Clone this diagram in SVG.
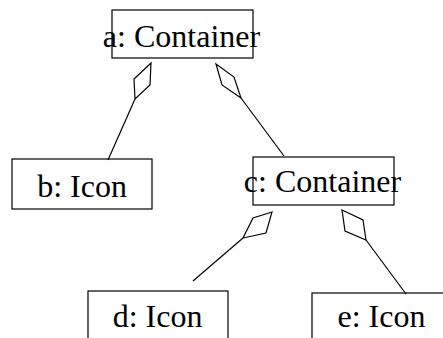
<svg xmlns="http://www.w3.org/2000/svg" width="443" height="338" viewBox="0 0 443 338">
  <style>
    .box { fill: none; stroke: #000; stroke-width: 1.2; }
    .label { font-family: 'Liberation Serif', 'Times New Roman', Times, serif; font-size: 32px; fill: #000; text-anchor: middle; }
    .link { stroke: #000; stroke-width: 1.2; fill: none; }
    .diamond { fill: #fff; stroke: #000; stroke-width: 1.2; stroke-linejoin: miter; }
  </style>
  <rect width="443" height="338" fill="#fff"/>

  <!-- composition links: line plus open diamond at the owning end -->
  <g id="connectors">
    <line class="link" x1="135" y1="99" x2="108" y2="160"/>
    <polygon class="diamond" points="151,63 134,79 135,99 150,85"/>
    <line class="link" x1="241" y1="98" x2="284" y2="156"/>
    <polygon class="diamond" points="216,64 222,85 241,98 234,77"/>
    <line class="link" x1="243" y1="238" x2="193" y2="281"/>
    <polygon class="diamond" points="272,212 253,218 243,238 266,233"/>
    <line class="link" x1="366" y1="240" x2="406" y2="294"/>
    <polygon class="diamond" points="342,210 345,231 366,240 363,220"/>
  </g>

  <g id="a">
    <rect class="box" x="112" y="10" width="141" height="48"/>
    <text class="label" font-family="Liberation Serif, serif" x="181.5" y="46.5">a: Container</text>
  </g>
  <g id="b">
    <rect class="box" x="12" y="159" width="140" height="50"/>
    <text class="label" font-family="Liberation Serif, serif" x="82" y="196.5">b: Icon</text>
  </g>
  <g id="c">
    <rect class="box" x="253" y="157" width="141" height="48"/>
    <text class="label" font-family="Liberation Serif, serif" x="322.5" y="191.5">c: Container</text>
  </g>
  <g id="d">
    <rect class="box" x="88" y="291" width="140" height="50"/>
    <text class="label" font-family="Liberation Serif, serif" x="157.5" y="327">d: Icon</text>
  </g>
  <g id="e">
    <rect class="box" x="312" y="293" width="140" height="50"/>
    <text class="label" font-family="Liberation Serif, serif" x="381.5" y="327">e: Icon</text>
  </g>
</svg>
